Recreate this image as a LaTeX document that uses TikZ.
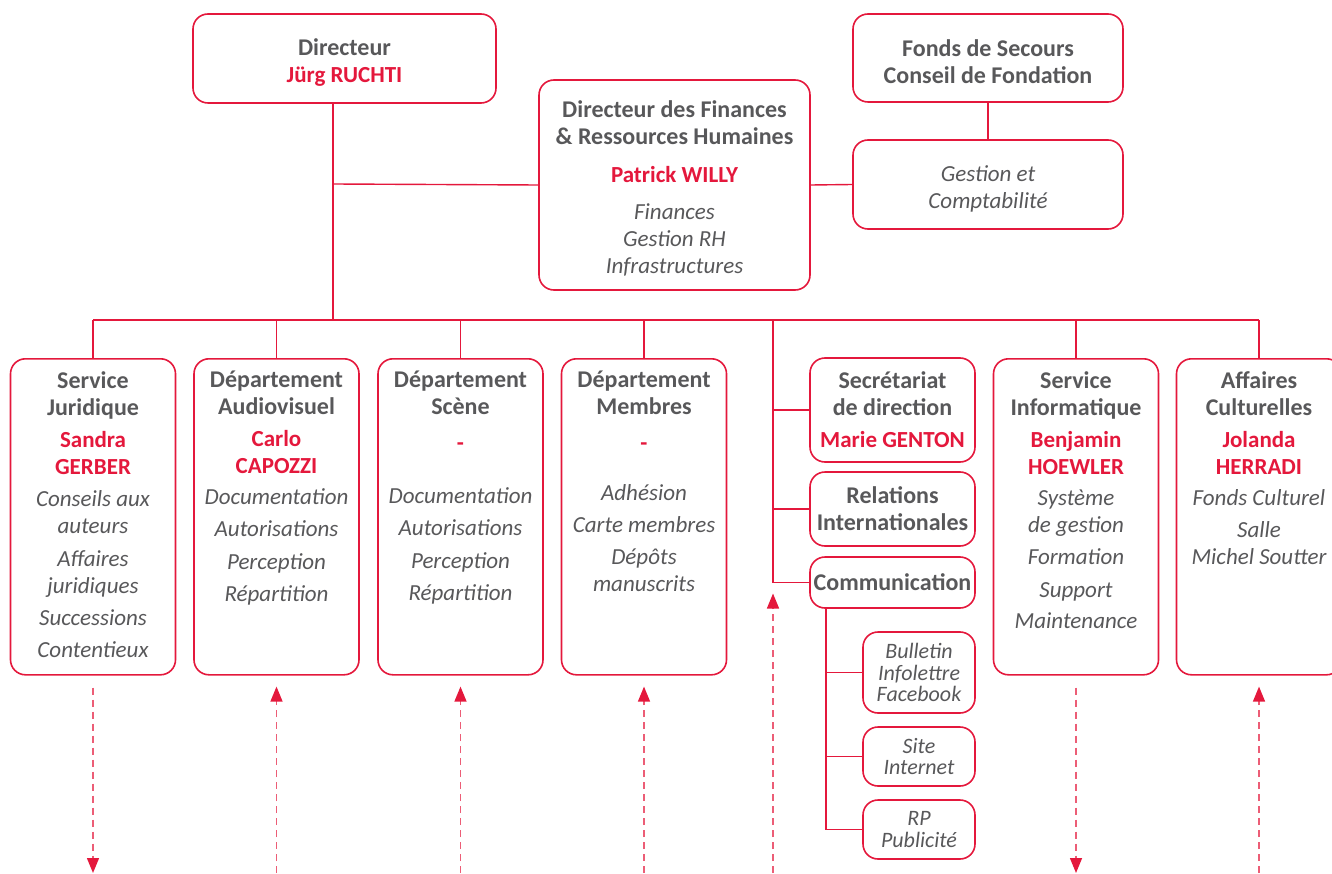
\documentclass[tikz,border=0pt]{standalone}
\usepackage{fontspec}
\setmainfont{Carlito}
\usetikzlibrary{arrows.meta,positioning}

\definecolor{accent}{RGB}{228,24,60}
\definecolor{ink}{RGB}{88,88,90}

\newcommand\hd[1]{{\fontsize{24}{27}\selectfont\bfseries\upshape #1}}
\newcommand\pn[1]{{\bfseries\upshape\color{accent}#1}}
\newcommand\tp{\rule{0pt}{24pt}}

\tikzset{
  box/.style={draw=accent, line width=1.6pt, rounded corners=15pt,
    align=center, text=ink, inner sep=0pt,
    font=\fontsize{23}{27}\selectfont\itshape},
  unit/.style={box, minimum width=165pt, minimum height=316pt, anchor=north},
  unittxt/.style={align=center, text=ink, inner sep=0pt, anchor=north,
    font=\fontsize{23}{27}\selectfont\itshape},
  subbox/.style={box, minimum width=112pt, font=\fontsize{22}{21.5}\selectfont\itshape},
  link/.style={draw=accent, line width=1.4pt},
  feed/.style={draw=accent!70, line width=1.4pt, dash pattern=on 7pt off 5pt,
    -{Triangle[length=15pt,width=12pt,color=accent]}},
}

\begin{document}
\begin{tikzpicture}[x=1pt,y=-1pt]
\useasboundingbox (0,0) rectangle (1332,874);
\clip (0,0) rectangle (1332,874);

% top row
\node[box, minimum width=303pt, minimum height=89pt] (dir) at (344.5,58.5)
  {\tp\hd{Directeur}\\\pn{Jürg RUCHTI}};
\node[box, minimum width=271pt, minimum height=210pt] (df) at (674.5,185)
  {\tp\hd{Directeur des Finances}\\\hd{\& Ressources Humaines}\\[11pt]\pn{Patrick WILLY}\\[10pt]Finances\\Gestion RH\\Infrastructures};
\node[box, minimum width=270pt, minimum height=88pt] (fs) at (988,58)
  {\tp\hd{Fonds de Secours}\\\hd{Conseil de Fondation}};
\node[box, minimum width=270pt, minimum height=89pt] (gc) at (988,184.5)
  {\tp Gestion et\\Comptabilité};

% departments
\node[unit] (jur) at (93,358) {};
\node[unit] (av) at (276.5,358) {};
\node[unit] (sc) at (460.5,358) {};
\node[unit] (mem) at (644,358) {};
\node[unit] (inf) at (1076,358) {};
\node[unit] (aff) at (1259,358) {};

\node[unittxt, below=13pt of jur.north] (jur-t)
  {\hd{Service}\\\hd{Juridique}\\[5pt]\pn{Sandra}\\\pn{GERBER}\\[5pt]Conseils aux\\auteurs\\[6pt]Affaires\\juridiques\\[5pt]Successions\\[5pt]Contentieux};
\node[unittxt, below=13pt of av.north] (av-t)
  {\hd{Département}\\\hd{Audiovisuel}\\[5pt]\pn{Carlo}\\\pn{CAPOZZI}\\[4pt]Documentation\\[5pt]Autorisations\\[6pt]Perception\\[5pt]Répartition};
\node[unittxt, below=13pt of sc.north] (sc-t)
  {\hd{Département}\\\hd{Scène}\\[9pt]\pn{-}\\[26pt]Documentation\\[5pt]Autorisations\\[6pt]Perception\\[5pt]Répartition};
\node[unittxt, below=13pt of mem.north] (mem-t)
  {\hd{Département}\\\hd{Membres}\\[9pt]\pn{-}\\[23pt]Adhésion\\[5pt]Carte membres\\[5pt]Dépôts\\manuscrits};
\node[unittxt, below=13pt of inf.north] (inf-t)
  {\hd{Service}\\\hd{Informatique}\\[5pt]\pn{Benjamin}\\\pn{HOEWLER}\\[4pt]Système\\de gestion\\[5pt]Formation\\[6pt]Support\\[4pt]Maintenance};
\node[unittxt, below=13pt of aff.north] (aff-t)
  {\hd{Affaires}\\\hd{Culturelles}\\[5pt]\pn{Jolanda}\\\pn{HERRADI}\\[4pt]Fonds Culturel\\[5pt]Salle\\Michel Soutter};

% staff column
\node[box, minimum width=165pt, minimum height=104pt] (sec) at (892.5,410)
  {\hd{Secrétariat}\\\hd{de direction}\\[5pt]\pn{Marie GENTON}};
\node[box, minimum width=165pt, minimum height=74pt] (ri) at (892.5,509)
  {\hd{Relations}\\\hd{Internationales}};
\node[box, minimum width=165pt, minimum height=51pt] (com) at (892.5,582.5)
  {\hd{Communication}};
\node[subbox, minimum height=81pt] (bul) at (919,672.5) {Bulletin\\Infolettre\\Facebook};
\node[subbox, minimum height=59pt] (site) at (919,756.5) {Site\\Internet};
\node[subbox, minimum height=59pt] (rp) at (919,829.5) {RP\\Publicité};

% connectors
\coordinate (trunk) at (333,320);
\coordinate (tee) at (333,184);
\coordinate (col) at (773,320);
\coordinate (ctop) at (826,608);
\coordinate (floor) at (0,873);

\draw[link] (dir.south -| trunk) -- (trunk);
\draw[link] (tee) -- (df.west);
\draw[link] (df.east) -- (gc.west);
\draw[link] (fs) -- (gc);
\draw[link] (jur.north |- trunk) -- (aff.north |- trunk);
\foreach \u in {jur,av,sc,mem,inf,aff}
  \draw[link] (\u.north |- trunk) -- (\u.north);
\draw[link] (col) |- (com.west);
\draw[link] (col |- sec.west) -- (sec.west);
\draw[link] (col |- ri.west) -- (ri.west);
\draw[link] (ctop) |- (rp.west);
\draw[link] (ctop |- bul.west) -- (bul.west);
\draw[link] (ctop |- site.west) -- (site.west);

% dashed links
\draw[feed] ([yshift=-12pt]jur.south) -- (jur.south |- floor);
\draw[feed] ([yshift=-12pt]inf.south) -- (inf.south |- floor);
\foreach \u in {av,sc,mem,aff}
  \draw[feed] (\u.south |- floor) -- ([yshift=-11pt]\u.south);
\draw[feed] (col |- floor) -- ([yshift=-11pt]col |- com.west);
\end{tikzpicture}
\end{document}
